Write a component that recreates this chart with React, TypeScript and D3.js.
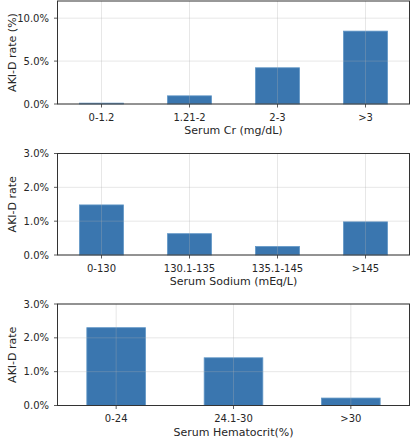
import React from "react";
import * as d3 from "d3";

const crCategories = ["0-1.2", "1.21-2", "2-3", ">3"];
const crValues = [0.001, 0.0095, 0.0422, 0.0849];
const crTicks = [0, 0.05, 0.1];

const naCategories = ["0-130", "130.1-135", "135.1-145", ">145"];
const naValues = [0.0148, 0.0063, 0.0025, 0.0098];
const naTicks = [0, 0.01, 0.02, 0.03];

const hctCategories = ["0-24", "24.1-30", ">30"];
const hctValues = [0.023, 0.0141, 0.0022];
const hctTicks = [0, 0.01, 0.02, 0.03];

const panels = [
  { cats: crCategories, vals: crValues, ticks: crTicks, yMax: 0.12, xLabel: "Serum Cr (mg/dL)", yLabel: "AKI-D rate (%)", top: 1, bottom: 104 },
  { cats: naCategories, vals: naValues, ticks: naTicks, yMax: 0.03, xLabel: "Serum Sodium (mEq/L)", yLabel: "AKI-D rate", top: 153.5, bottom: 255 },
  { cats: hctCategories, vals: hctValues, ticks: hctTicks, yMax: 0.03, xLabel: "Serum Hematocrit(%)", yLabel: "AKI-D rate", top: 304, bottom: 405.5 },
];

const LEFT = 57.5;
const RIGHT = 409.5;
const FONT = "DejaVu Sans, sans-serif";
const fmt = d3.format(".1%");

function Panel({ p }: { p: typeof panels[number] }) {
  const n = p.cats.length;
  const x = d3.scaleLinear().domain([-0.5, n - 0.5]).range([LEFT, RIGHT]);
  const y = d3.scaleLinear().domain([0, p.yMax]).range([p.bottom, p.top]);
  const bw = x(0.25) - x(-0.25);
  return (
    <g>
      {p.vals.map((v, i) => (
        <rect
          key={i}
          x={x(i) - bw / 2}
          y={y(v)}
          width={bw}
          height={y(0) - y(v)}
          fill="#3a76af"
          stroke="#6096c6"
          strokeWidth={0.8}
        />
      ))}
      {p.ticks.map((t, i) => (
        <line key={"gy" + i} x1={LEFT} x2={RIGHT} y1={y(t)} y2={y(t)} stroke="#b0b0b0" strokeOpacity={0.3} strokeWidth={1} />
      ))}
      {p.cats.map((c, i) => (
        <line key={"gx" + i} x1={x(i)} x2={x(i)} y1={p.top} y2={p.bottom} stroke="#b0b0b0" strokeOpacity={0.3} strokeWidth={1} />
      ))}
      <rect x={LEFT} y={p.top} width={RIGHT - LEFT} height={p.bottom - p.top} fill="none" stroke="#333" strokeWidth={1} />
      {p.ticks.map((t, i) => (
        <g key={"ty" + i}>
          <line x1={LEFT - 3.5} x2={LEFT} y1={y(t)} y2={y(t)} stroke="#333" strokeWidth={0.8} />
          <text x={LEFT - 8.5} y={y(t)} dy="0.35em" textAnchor="end" fontSize={10} fill="#262626" fontFamily={FONT}>
            {fmt(t)}
          </text>
        </g>
      ))}
      {p.cats.map((c, i) => (
        <g key={"tx" + i}>
          <line x1={x(i)} x2={x(i)} y1={p.bottom} y2={p.bottom + 3.5} stroke="#333" strokeWidth={0.8} />
          <text x={x(i)} y={p.bottom + 13} dy="0.35em" textAnchor="middle" fontSize={10} fill="#262626" fontFamily={FONT}>
            {c}
          </text>
        </g>
      ))}
      <text x={(LEFT + RIGHT) / 2} y={p.bottom + 26.5} dy="0.35em" textAnchor="middle" fontSize={11} fill="#262626" fontFamily={FONT}>
        {p.xLabel}
      </text>
      <text
        transform={`translate(12.5,${(p.top + p.bottom) / 2}) rotate(-90)`}
        dy="0.35em"
        textAnchor="middle"
        fontSize={11}
        fill="#262626"
        fontFamily={FONT}
      >
        {p.yLabel}
      </text>
    </g>
  );
}

export default function App() {
  return (
    <svg width={412} height={440} style={{ position: "absolute", left: 0, top: 0, background: "#fff" }}>
      <rect width={412} height={440} fill="#fff" />
      {panels.map((p, i) => (
        <Panel key={i} p={p} />
      ))}
    </svg>
  );
}
